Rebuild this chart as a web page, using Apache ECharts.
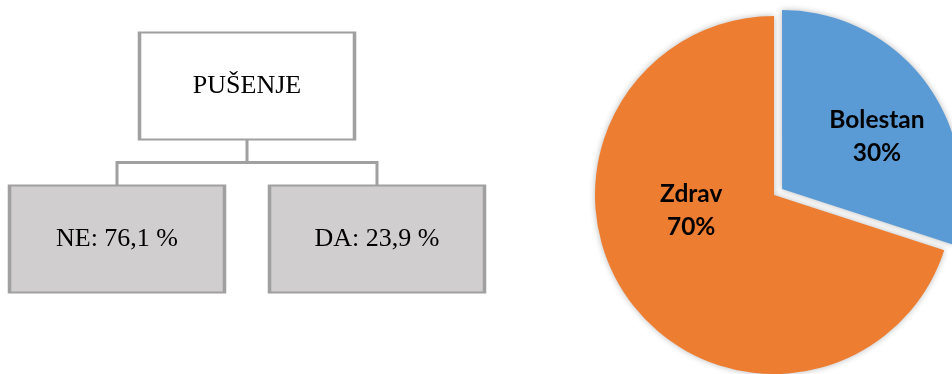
<!DOCTYPE html>
<html>
<head>
<meta charset="utf-8">
<script src="https://cdn.jsdelivr.net/npm/echarts@6/dist/echarts.min.js"></script>
<style>
html,body{margin:0;padding:0;background:#fff;}
#main{width:952px;height:374px;}
</style>
</head>
<body>
<div id="main"></div>
<script>
// Tree diagram data
const rootLabel = 'PUŠENJE';
const smokingCategories = ['NE', 'DA'];
const smokingValues = [76.1, 23.9];

// Pie data
const healthCategories = ['Bolestan', 'Zdrav'];
const healthValues = [30, 70];
const healthColors = ['#5b9bd5', '#ed7d31'];

function fmtPct(v) { return v.toFixed(1).replace('.', ',') + ' %'; }

const boxStyle = { borderColor: '#a0a0a0', borderWidth: 2.5 };

const treeData = {
  name: rootLabel,
  itemStyle: Object.assign({ color: '#ffffff' }, boxStyle),
  children: smokingCategories.map((c, i) => ({
    name: c,
    value: smokingValues[i],
    itemStyle: Object.assign({ color: '#d0cece' }, boxStyle)
  }))
};

const chart = echarts.init(document.getElementById('main'), null, { renderer: 'canvas' });
chart.setOption({
  animation: false,
  backgroundColor: '#ffffff',
  series: [
    {
      type: 'tree',
      data: [treeData],
      orient: 'TB',
      left: -13,
      top: 86,
      width: 520,
      height: 153,
      roam: false,
      expandAndCollapse: false,
      edgeShape: 'polyline',
      symbol: 'rect',
      symbolSize: [215, 107],
      lineStyle: { color: '#a0a0a0', width: 3, curveness: 0 },
      label: {
        position: 'inside',
        fontFamily: 'Liberation Serif',
        fontSize: 26,
        color: '#000',
        formatter: p => p.data.children ? p.name : p.name + ': ' + fmtPct(p.value)
      },
      leaves: { label: { position: 'inside' } },
      emphasis: { disabled: true },
      silent: true
    },
    {
      type: 'pie',
      center: [774, 195],
      radius: 179,
      startAngle: 90,
      clockwise: true,
      selectedMode: 'single',
      selectedOffset: 10,
      silent: true,
      emphasis: { disabled: true },
      data: healthCategories.map((c, i) => ({
        name: c,
        value: healthValues[i],
        selected: i === 0,
        itemStyle: {
          color: healthColors[i],
          shadowBlur: 6,
          shadowColor: 'rgba(0,0,0,0.28)'
        }
      })),
      label: {
        show: true,
        position: 'inside',
        fontFamily: 'Lato',
        fontWeight: 'bold',
        fontSize: 24.5,
        lineHeight: 33,
        color: '#000',
        formatter: p => p.name + '\n' + Math.round(p.percent) + '%'
      },
      labelLine: { show: false },
      labelLayout: function (p) {
        return p.dataIndex === 0 ? { dx: 20, dy: 2 } : { dx: -8, dy: -39 };
      }
    }
  ]
});
</script>
</body>
</html>
